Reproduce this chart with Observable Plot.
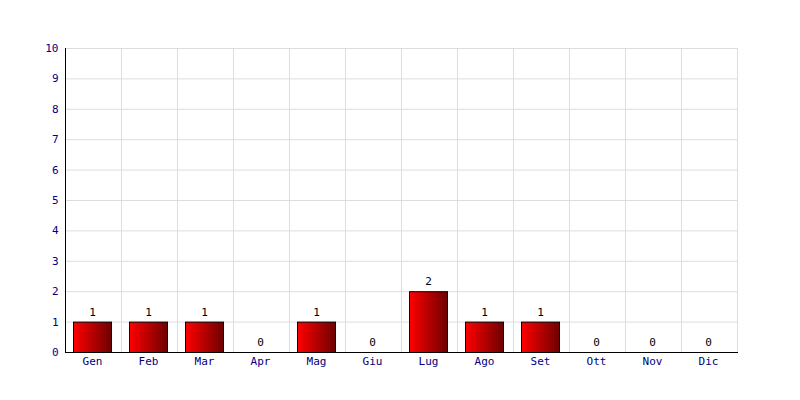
<!DOCTYPE html>
<html>
<head>
<meta charset="utf-8">
<script src="https://cdn.jsdelivr.net/npm/d3@7"></script>
<script src="https://cdn.jsdelivr.net/npm/@observablehq/plot@0.6"></script>
<style>
  html, body { margin: 0; padding: 0; background: #fff; }
  svg { display: block; }
</style>
</head>
<body>
<div id="chart"></div>
<script>
const months = ["Gen", "Feb", "Mar", "Apr", "Mag", "Giu", "Lug", "Ago", "Set", "Ott", "Nov", "Dic"];
const counts = [1, 1, 1, 0, 1, 0, 2, 1, 1, 0, 0, 0];
const yTicks = [0, 1, 2, 3, 4, 5, 6, 7, 8, 9, 10];
const yMax = 10;

const data = months.map((m, i) => ({month: m, value: counts[i]}));
const barData = data.filter(d => d.value > 0);

const font = "'DejaVu Sans Mono', monospace";

const defs = () => {
  const ns = "http://www.w3.org/2000/svg";
  const d = document.createElementNS(ns, "defs");
  d.innerHTML = `<linearGradient id="barGrad" x1="0" x2="1" y1="0" y2="0">
      <stop offset="0%" stop-color="#ff0000"/>
      <stop offset="100%" stop-color="#6e0000"/>
    </linearGradient>`;
  return d;
};

const axisLines = (index, scales, values, dims) => {
  const ns = "http://www.w3.org/2000/svg";
  const g = document.createElementNS(ns, "g");
  const x0 = dims.marginLeft, x1 = dims.width - dims.marginRight;
  const y0 = dims.marginTop, y1 = dims.height - dims.marginBottom;
  g.innerHTML = `<line x1="${x0 + 0.5}" x2="${x0 + 0.5}" y1="${y0}" y2="${y1 + 0.5}" stroke="#000"/>
    <line x1="${x0}" x2="${x1 + 1}" y1="${y1 + 0.5}" y2="${y1 + 0.5}" stroke="#000"/>`;
  return g;
};

const chart = Plot.plot({
  width: 800,
  height: 400,
  marginLeft: 65,
  marginRight: 63,
  marginTop: 48,
  marginBottom: 48,
  style: {fontFamily: font, fontSize: "11px", background: "#fff"},
  x: {domain: months, padding: 0, label: null},
  y: {domain: [0, yMax], label: null},
  marks: [
    defs,
    Plot.gridY(yTicks, {stroke: "#dddddd", strokeOpacity: 1}),
    Plot.barY(months, {x: d => d, y: () => yMax, fill: "none", stroke: "#dddddd", dx: 0.5, dy: 0.5}),
    Plot.barY(barData, {x: "month", y: "value", fill: "url(#barGrad)", stroke: "#000", strokeWidth: 1, insetLeft: 8.5, insetRight: 9.5, dy: 0.5}),
    Plot.text(data, {x: "month", y: "value", text: d => String(d.value), dy: -10, dx: -1, fill: "#000", fontFamily: font, fontSize: 11}),
    axisLines,
    Plot.axisX({tickSize: 0, tickPadding: 5, dx: -1, fill: "#000080", fontFamily: font, fontSize: 11, label: null}),
    Plot.axisY(yTicks, {tickSize: 0, tickPadding: 7, fill: "#000080", fontFamily: font, fontSize: 11, label: null})
  ]
});

document.getElementById("chart").appendChild(chart);
</script>
</body>
</html>
